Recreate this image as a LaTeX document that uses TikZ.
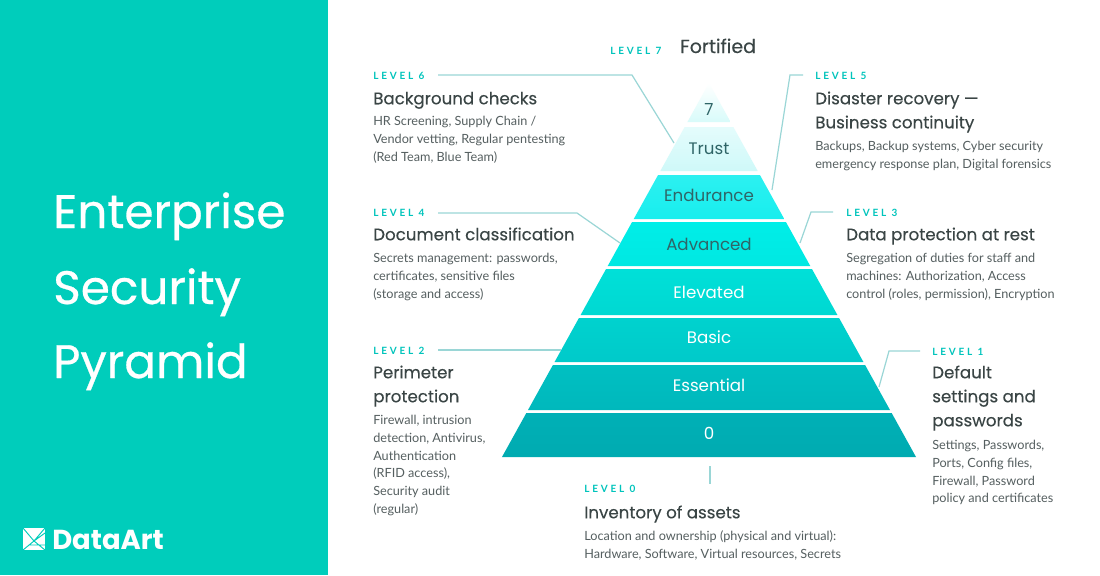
\documentclass[tikz,border=0pt]{standalone}
\usepackage{fontspec}
\setmainfont{Lato}
\newfontfamily\headfont[FakeBold=0.6]{Poppins}
\newfontfamily\ttlfont[FakeBold=0.25]{Poppins}
\newfontfamily\bandfont{Poppins}
\newfontfamily\lvlfont[LetterSpace=28]{Lato Bold}
\definecolor{panel}{HTML}{00CDBB}
\definecolor{lvlc}{HTML}{00C4BC}
\definecolor{titlec}{HTML}{3A4545}
\definecolor{bodyc}{HTML}{555F60}
\definecolor{conn}{HTML}{9AD6D6}
\definecolor{darkband}{HTML}{2F6567}
\newcommand{\tst}{\rule{0pt}{14pt}}
\newcommand{\bst}{\rule{0pt}{11pt}}
\tikzset{
  x=0.75pt,y=-0.75pt,
  lvl/.style={anchor=base west,inner sep=0pt,text=lvlc,font=\lvlfont\fontsize{7.5}{9}\selectfont},
  ttl/.style={anchor=north west,inner sep=0pt,yshift=14pt,align=left,text=titlec,font=\ttlfont\fontsize{12.5}{18}\selectfont},
  bdy/.style={anchor=north west,inner sep=0pt,yshift=11pt,align=left,text=bodyc,font=\fontsize{9.5}{13.4}\selectfont},
  head/.style={anchor=base west,inner sep=0pt,text=white,font=\headfont\fontsize{35.2}{40}\selectfont},
  bandtxt/.style={inner sep=0pt,anchor=base,font=\bandfont\fontsize{12.5}{16}\selectfont},
  conline/.style={draw=conn,line width=0.9pt},
}
\newcommand{\pband}[4]{% top y, bottom y, top colour, bottom colour
  \pgfmathsetmacro{\hwt}{0.5535*(#1-83)}
  \pgfmathsetmacro{\hwb}{0.5535*(#2-83)}
  \definecolor{bandA}{HTML}{#3}
  \definecolor{bandB}{HTML}{#4}
  \shade[top color=bandA,bottom color=bandB] (709-\hwt,#1) -- (709+\hwt,#1) -- (709+\hwb,#2) -- (709-\hwb,#2) -- cycle;
}
\begin{document}
\begin{tikzpicture}
\useasboundingbox (0,0) rectangle (1100,575);
\fill[white] (0,0) rectangle (1100,575);
\fill[panel] (0,0) rectangle (328,575);

% left panel
\node[head] (h1) at (53,228) {Enterprise};
\node[head] (h2) at (53,304) {Security};
\node[head] (h3) at (53,378) {Pyramid};

% logo
\fill[white] (23,528) rectangle (45,550);
\draw[panel,line width=0.7pt] (23,528) -- (34,541) -- (45,528) (23,550) -- (34,541) -- (45,550) (34,541) -- (45,533) (29,545) -- (45,545);
\node[anchor=base west,inner sep=0pt,text=white,font=\bandfont\bfseries\fontsize{20.6}{22}\selectfont] (logo) at (52,549) {DataArt};

% pyramid
\pband{83}{122}{FFFFFF}{D8FBFA}
\pband{127}{171}{E4FCFC}{CFF9F9}
\pband{175}{219}{2CF0F0}{18EEEE}
\pband{222}{266}{00EEE8}{00E8E2}
\pband{269}{315}{00E0D8}{00D8D2}
\pband{318}{362}{00D2CE}{00CACA}
\pband{365}{410}{00C0C2}{00B8BC}
\pband{413}{457}{00B0B6}{00ABB1}

\node[bandtxt,text=darkband] (b7) at (709,115) {7};
\node[bandtxt,text=darkband] (b6) at (709,154) {Trust};
\node[bandtxt,text=darkband] (b5) at (709,201) {Endurance};
\node[bandtxt,text=darkband] (b4) at (709,250) {Advanced};
\node[bandtxt,text=white] (b3) at (709,298) {Elevated};
\node[bandtxt,text=white] (b2) at (709,343) {Basic};
\node[bandtxt,text=white] (b1) at (709,391) {Essential};
\node[bandtxt,text=white] (b0) at (709,439) {0};

% level 7
\node[lvl] (l7) at (610,54) {LEVEL 7};
\node[anchor=base west,inner sep=0pt,text=titlec,font=\ttlfont\fontsize{14.2}{18}\selectfont] (t7) at (680,53) {Fortified};

% level 6
\node[lvl] (l6) at (373,79) {LEVEL 6};
\node[ttl] (t6) at (373,104) {\tst Background checks};
\node[bdy] (d6) at (373,125) {\bst HR Screening, Supply Chain /\\Vendor vetting, Regular pentesting\\(Red Team, Blue Team)};
% level 5
\node[lvl] (l5) at (815,79) {LEVEL 5};
\node[ttl] (t5) at (815,104) {\tst Disaster recovery —\\Business continuity};
\node[bdy] (d5) at (815,150) {\bst Backups, Backup systems, Cyber security\\emergency response plan, Digital forensics};
% level 4
\node[lvl] (l4) at (373,216) {LEVEL 4};
\node[ttl] (t4) at (373,240) {\tst Document classification};
\node[bdy] (d4) at (373,262) {\bst Secrets management: passwords,\\certificates, sensitive files\\(storage and access)};
% level 3
\node[lvl] (l3) at (846,216) {LEVEL 3};
\node[ttl] (t3) at (846,240) {\tst Data protection at rest};
\node[bdy] (d3) at (846,262) {\bst Segregation of duties for staff and\\machines: Authorization, Access\\control (roles, permission), Encryption};
% level 2
\node[lvl] (l2) at (373,354) {LEVEL 2};
\node[ttl] (t2) at (373,378) {\tst Perimeter\\protection};
\node[bdy] (d2) at (373,424) {\bst Firewall, intrusion\\detection, Antivirus,\\Authentication\\(RFID access),\\Security audit\\(regular)};
% level 1
\node[lvl] (l1) at (932,355) {LEVEL 1};
\node[ttl] (t1) at (932,378) {\tst Default\\settings and\\passwords};
\node[bdy] (d1) at (932,449) {\bst Settings, Passwords,\\Ports, Config files,\\Firewall, Password\\policy and certificates};
% level 0
\node[lvl] (l0) at (584,492) {LEVEL 0};
\node[ttl] (t0) at (584,518) {\tst Inventory of assets};
\node[bdy] (d0) at (584,540) {\bst Location and ownership (physical and virtual):\\Hardware, Software, Virtual resources, Secrets};

% connector ends
\coordinate (s6) at (438,75); \coordinate (k6) at (632,75); \coordinate (e6) at (674,143);
\coordinate (s5) at (803,75); \coordinate (k5) at (790,75); \coordinate (e5) at (772,190);
\coordinate (s4) at (438,213); \coordinate (k4) at (577,213); \coordinate (e4) at (620,243);
\coordinate (s3) at (833,212); \coordinate (k3) at (811,212); \coordinate (e3) at (800,243);
\coordinate (s2) at (438,350); \coordinate (e2) at (561,350);
\coordinate (s1) at (920,351); \coordinate (k1) at (889,351); \coordinate (e1) at (879,387);
\coordinate (s0) at (710,466); \coordinate (e0) at (710,484);
\draw[conline] (s6) -- (k6) -- (e6);
\draw[conline] (s5) -- (k5) -- (e5);
\draw[conline] (s4) -- (k4) -- (e4);
\draw[conline] (s3) -- (k3) -- (e3);
\draw[conline] (s2) -- (e2);
\draw[conline] (s1) -- (k1) -- (e1);
\draw[conline] (s0) -- (e0);
\end{tikzpicture}
\end{document}
